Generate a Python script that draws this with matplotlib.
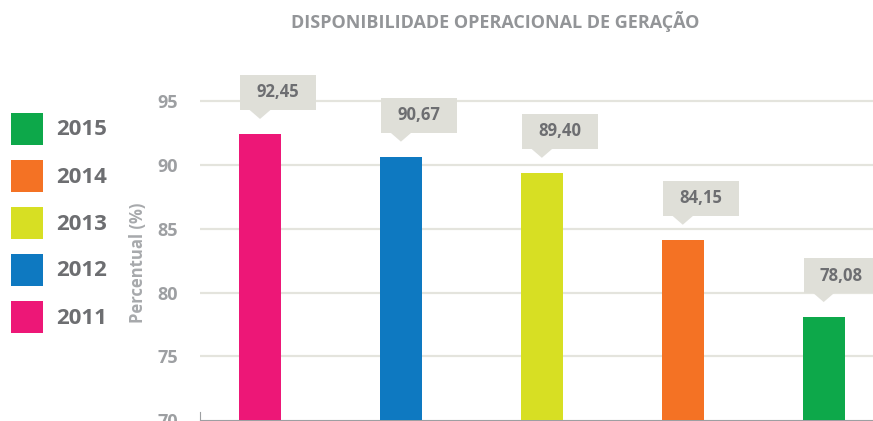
import matplotlib.pyplot as plt
from matplotlib.patches import Polygon, Rectangle

plt.rcParams['font.family'] = ['Open Sans', 'DejaVu Sans']

# data
years = ['2011', '2012', '2013', '2014', '2015']
values = [92.45, 90.67, 89.40, 84.15, 78.08]
colors = ['#ED1777', '#0E79C1', '#D7DF23', '#F47224', '#0DA84A']
labels = ['92,45', '90,67', '89,40', '84,15', '78,08']
yticks = [70, 75, 80, 85, 90, 95]

W, H = 873, 421
fig = plt.figure(figsize=(W / 100, H / 100), dpi=100)
ax = fig.add_axes([200 / W, 1 / H, 673 / W, 344 / H])

x = range(len(years))
ax.bar(x, [v - 70 for v in values], bottom=70, width=0.3, color=colors, zorder=3)
ax.set_xlim(-0.426, 4.35)
ax.set_ylim(70, 97)

ax.set_yticks(yticks)
ax.set_yticklabels([str(t) for t in yticks], color='#9d9fa2', fontsize=13, fontweight='bold')
ax.tick_params(axis='y', length=0, pad=16)
ax.set_xticks([])
ax.yaxis.grid(True, color='#e4e4dd', linewidth=1.6, zorder=0)
ax.get_ygridlines()[0].set_visible(False)
for s in ['top', 'right']:
    ax.spines[s].set_visible(False)
ax.spines['bottom'].set_color('#9d9fa2')
ax.spines['left'].set_color('#9d9fa2')
ax.spines['left'].set_bounds(70, 70.6)

fig.text(138 / W, 1 - 263 / H, 'Percentual (%)', rotation=90, ha='center', va='center',
         color='#a7a9ac', fontsize=12, fontweight='bold')

fig.text(495 / W, 1 - 22 / H, 'DISPONIBILIDADE OPERACIONAL DE GERAÇÃO', ha='center', va='center',
         color='#939598', fontsize=13, fontweight='bold')

# callouts drawn in pixel space above each bar
fig.canvas.draw()
for i, (v, lab) in enumerate(zip(values, labels)):
    xl, ytop = ax.transData.transform((i - 0.15, v))
    xc, _ = ax.transData.transform((i, v))
    bx0, bx1 = xl + 1, xl + 77
    by0 = ytop + 24
    by1 = by0 + 35
    box = Rectangle((bx0, by0), bx1 - bx0, by1 - by0, facecolor='#dfdfd8',
                    edgecolor='none', transform=None, zorder=4)
    tri = Polygon([(xc - 11, by0 + 0.5), (xc + 11, by0 + 0.5), (xc, by0 - 9)],
                  facecolor='#dfdfd8', edgecolor='none', transform=None, zorder=4)
    fig.add_artist(box)
    fig.add_artist(tri)
    fig.text((bx0 + bx1) / 2 / W, (by0 + by1) / 2 / H, lab, ha='center', va='center',
             color='#6d6e71', fontsize=12, fontweight='bold', zorder=5)

# legend, newest year on top
for k, (yr, c) in enumerate(zip(years[::-1], colors[::-1])):
    top = 113 + 47 * k
    fig.add_artist(Rectangle((11 / W, 1 - (top + 32) / H), 32 / W, 32 / H,
                             facecolor=c, edgecolor='none', transform=fig.transFigure))
    fig.text(56 / W, 1 - (top + 17) / H, yr, ha='left', va='center',
             color='#6d6e71', fontsize=16, fontweight='bold')

fig.savefig('out.png', dpi=100)
